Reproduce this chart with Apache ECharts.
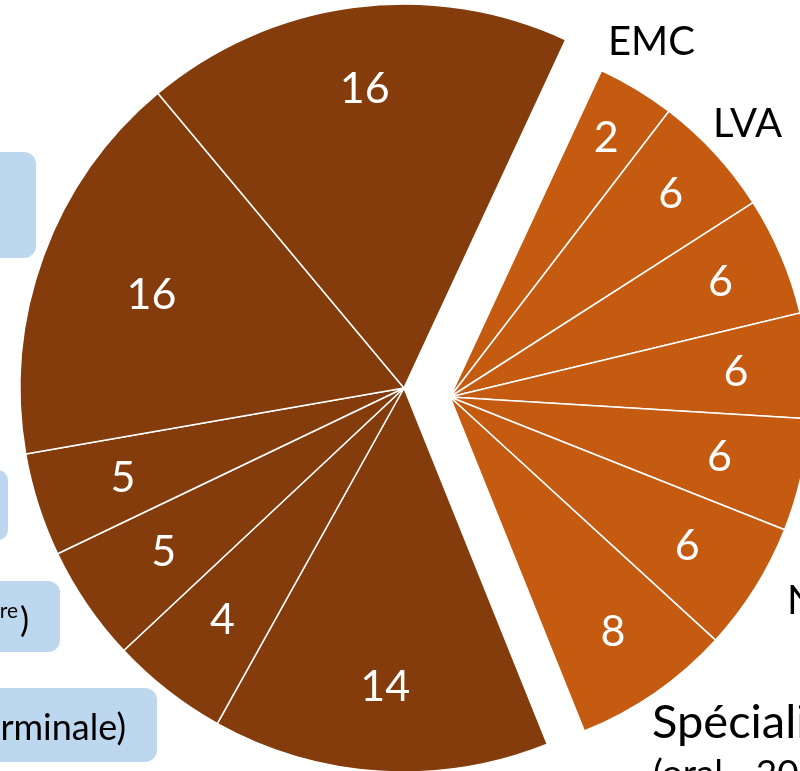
<!DOCTYPE html>
<html><head><meta charset="utf-8">
<script src="https://cdn.jsdelivr.net/npm/echarts@6/dist/echarts.min.js"></script>
<style>html,body{margin:0;padding:0;background:#fff;overflow:hidden}#c{width:800px;height:771px}</style>
</head><body><div id="c"></div>
<script>
// Coefficients written on the slices (clockwise, starting at the top of the orange group)
const coefficients = [2, 6, 6, 6, 6, 6, 8, 14, 4, 5, 5, 16, 16];
// Slice sizes as drawn in the picture (estimated angular shares)
const sliceShares = [12.5, 19.8, 19.1, 16.9, 18.1, 20.75, 25.5, 50.8, 17.7, 17.5, 15.6, 59.8, 64.5];
// Group of each slice: 'cc' = orange group, 'ef' = dark brown group
const groupOf = ['cc','cc','cc','cc','cc','cc','cc','ef','ef','ef','ef','ef','ef'];
// Outer labels visible in the picture
const outerLabels = ['EMC', 'LVA', 'N', 'Spécialité', '(oral - 20'];
const boxTexts = ['re', ')', '(Terminale)'];

// ---- styling (not data) ----
const colors = { cc: '#C55A11', ef: '#843C0C' };
const centers = { cc: [450, 397], ef: [404, 388] };
const radii = { cc: 360, ef: 384 };
// radial distance of each slice's number label from its group centre
const labelDist = [299, 297, 291, 284, 273, 277, 283, 297, 292, 288, 292, 266, 298];
const FONT = 'Lato, "Open Sans", sans-serif';
const START = 65.1;

function fillSeries(group) {
  return {
    type: 'pie', center: centers[group], radius: [0, radii[group]], startAngle: START, clockwise: true,
    silent: true, animation: false, avoidLabelOverlap: false,
    label: { show: false }, labelLine: { show: false },
    emphasis: { disabled: true },
    data: sliceShares.map(function (v, i) {
      const mine = groupOf[i] === group;
      return {
        value: v, name: 'slice' + i,
        itemStyle: mine
          ? { color: colors[group], borderColor: '#ffffff', borderWidth: 1.5 }
          : { color: 'rgba(0,0,0,0)', borderWidth: 0 }
      };
    })
  };
}

function labelSeries(k) {
  const g = groupOf[k];
  const d = labelDist[k];
  return {
    type: 'pie', center: centers[g], radius: [d - 40, d + 40], startAngle: START, clockwise: true,
    silent: true, animation: false, avoidLabelOverlap: false,
    labelLine: { show: false }, emphasis: { disabled: true },
    label: { show: false },
    data: sliceShares.map(function (v, i) {
      return {
        value: v, name: 'slice' + i,
        itemStyle: { color: 'rgba(0,0,0,0)', borderWidth: 0 },
        label: {
          show: i === k, position: 'inside',
          formatter: String(coefficients[i]),
          color: '#ffffff', fontSize: 43, fontFamily: FONT
        }
      };
    })
  };
}

const series = [fillSeries('ef'), fillSeries('cc')];
coefficients.forEach(function (c, k) { series.push(labelSeries(k)); });

function txt(x, y, text, size, align) {
  return { type: 'text', silent: true,
    style: { x: x, y: y, text: text, font: size + 'px ' + FONT, fill: '#000', align: align, verticalAlign: 'middle' } };
}

const chart = echarts.init(document.getElementById('c'), null, { renderer: 'canvas' });
chart.setOption({
  backgroundColor: '#ffffff',
  animation: false,
  series: series,
  graphic: [
    { type: 'rect', shape: { x: -20, y: 152, width: 56, height: 106, r: 12 }, style: { fill: '#BDD7EE' }, silent: true },
    { type: 'rect', shape: { x: -40, y: 470, width: 48, height: 70, r: 10 }, style: { fill: '#BDD7EE' }, silent: true },
    { type: 'rect', shape: { x: -40, y: 581, width: 100, height: 71, r: 12 }, style: { fill: '#BDD7EE' }, silent: true },
    { type: 'rect', shape: { x: -40, y: 688, width: 197, height: 74, r: 12 }, style: { fill: '#BDD7EE' }, silent: true },
    txt(18, 611, boxTexts[0], 21, 'right'),
    txt(29, 621, boxTexts[1], 34, 'right'),
    txt(126, 728, boxTexts[2], 36, 'right'),
    txt(608, 42, outerLabels[0], 40, 'left'),
    txt(713, 124, outerLabels[1], 40, 'left'),
    txt(787, 601, outerLabels[2], 40, 'left'),
    txt(652, 723, outerLabels[3], 47, 'left'),
    txt(653, 774, outerLabels[4], 37, 'left')
  ]
});
</script>
</body></html>
